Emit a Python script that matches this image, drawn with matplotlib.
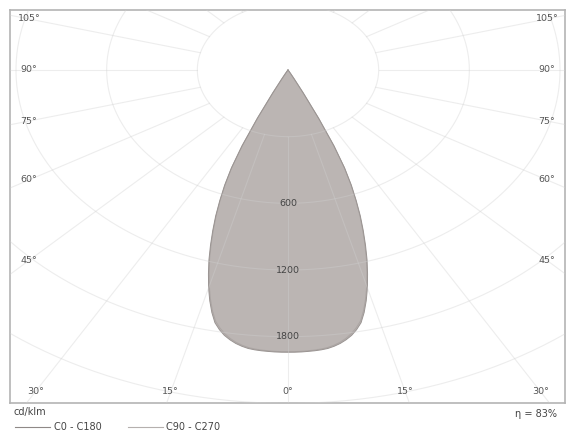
import numpy as np
import matplotlib.pyplot as plt
from matplotlib.lines import Line2D

# luminous intensity distribution (cd/klm vs gamma angle)
angles = [0, 1, 2, 3, 4, 5, 6, 7, 8, 9, 10, 11, 12, 13, 14, 15, 16, 17, 18, 19, 20,
          21, 22, 23, 24, 25, 26, 27, 28, 29, 30, 35, 40, 50, 60, 70, 80, 90]
c0_c180 = [2540, 2540, 2539, 2536, 2533, 2528, 2520, 2505, 2485, 2458, 2425, 2380, 2325,
           2240, 2140, 2030, 1910, 1790, 1660, 1530, 1400, 1260, 1120, 960, 750, 480, 230,
           90, 40, 20, 10, 3, 0, 0, 0, 0, 0, 0]
c90_c270 = [2535, 2535, 2533, 2530, 2526, 2520, 2511, 2495, 2474, 2446, 2410, 2364, 2308,
            2222, 2122, 2012, 1893, 1773, 1645, 1515, 1386, 1247, 1108, 950, 742, 475, 226,
            88, 39, 19, 9, 3, 0, 0, 0, 0, 0, 0]

ring_step = 600
ring_labels = ["600", "1200", "1800"]
angle_ticks = [0, 15, 30, 45, 60, 75, 90, 105]
efficiency = 83

W, H = 568, 433
PX_Y = 66.67 / ring_step          # pixels per cd/klm, vertical
PX_X = PX_Y * 1.36                # the diagram is stretched sideways


def curve_xy(gammas, values):
    # both halves of one C-plane pair, gamma measured from straight down
    g = np.radians(np.concatenate([-np.array(gammas)[::-1], gammas]))
    v = np.concatenate([np.array(values)[::-1], values])
    return v * np.sin(g), -v * np.cos(g)


fig = plt.figure(figsize=(W / 100, H / 100), dpi=100)
ax = fig.add_axes([10 / W, 30 / H, 555 / W, 393 / H])
ax.set_xlim(-278 / PX_X, 277 / PX_X)
ax.set_ylim(-333 / PX_Y, 60 / PX_Y)
ax.set_xticks([])
ax.set_yticks([])
for s in ax.spines.values():
    s.set_color('#b4b4b4')
    s.set_linewidth(1.2)

x0, y0 = curve_xy(angles, c0_c180)
x9, y9 = curve_xy(angles, c90_c270)
ax.fill(x0, y0, color='#bbb5b3', lw=0, zorder=1)
ax.plot(x9, y9, color='#aca6a4', lw=0.7, zorder=2)
ax.plot(x0, y0, color='#9a9492', lw=0.7, zorder=2)

# polar grid: rings and 15 degree spokes, spokes start at the first ring
t = np.linspace(0, 2 * np.pi, 400)
for k in range(1, 9):
    ax.plot(k * ring_step * np.sin(t), -k * ring_step * np.cos(t),
            color='#d0d0d0', lw=0.8, alpha=0.38, zorder=3)
for a in range(0, 360, 15):
    r = np.array([ring_step, 10 * ring_step])
    ax.plot(r * np.sin(np.radians(a)), -r * np.cos(np.radians(a)),
            color='#d0d0d0', lw=0.8, alpha=0.38, zorder=3)

for i, lab in enumerate(ring_labels):
    ax.text(0, -(i + 2) * ring_step, lab, ha='center', va='center',
            fontsize=6.8, color='#444444', zorder=4)

# angle labels where the spokes meet an inner margin of the frame
for a in angle_ticks:
    for side in ([1] if a == 0 else [-1, 1]):
        dx = np.sin(np.radians(a)) * PX_X
        dy = np.cos(np.radians(a)) * PX_Y
        tt = 259 / abs(dx) if dx != 0 else np.inf
        if dy > 0:
            tt = min(tt, 322 / dy)
        ax.text(side * tt * np.sin(np.radians(a)), -tt * np.cos(np.radians(a)),
                f"{a}°", ha='center', va='center', fontsize=6.8,
                color='#555555', zorder=4)

fig.text(13 / W, 1 - 412 / H, "cd/klm", fontsize=7, color='#444444', va='center')
fig.text(557 / W, 1 - 414 / H, f"η = {efficiency}%", fontsize=7, color='#444444',
         va='center', ha='right')
fig.add_artist(Line2D([15 / W, 50 / W], [1 - 427 / H] * 2, color='#8f8987', lw=0.8))
fig.text(54 / W, 1 - 427 / H, "C0 - C180", fontsize=7, color='#444444', va='center')
fig.add_artist(Line2D([128 / W, 163 / W], [1 - 427 / H] * 2, color='#b5b0ae', lw=0.8))
fig.text(166 / W, 1 - 427 / H, "C90 - C270", fontsize=7, color='#444444', va='center')

fig.savefig("out.png", dpi=100)
